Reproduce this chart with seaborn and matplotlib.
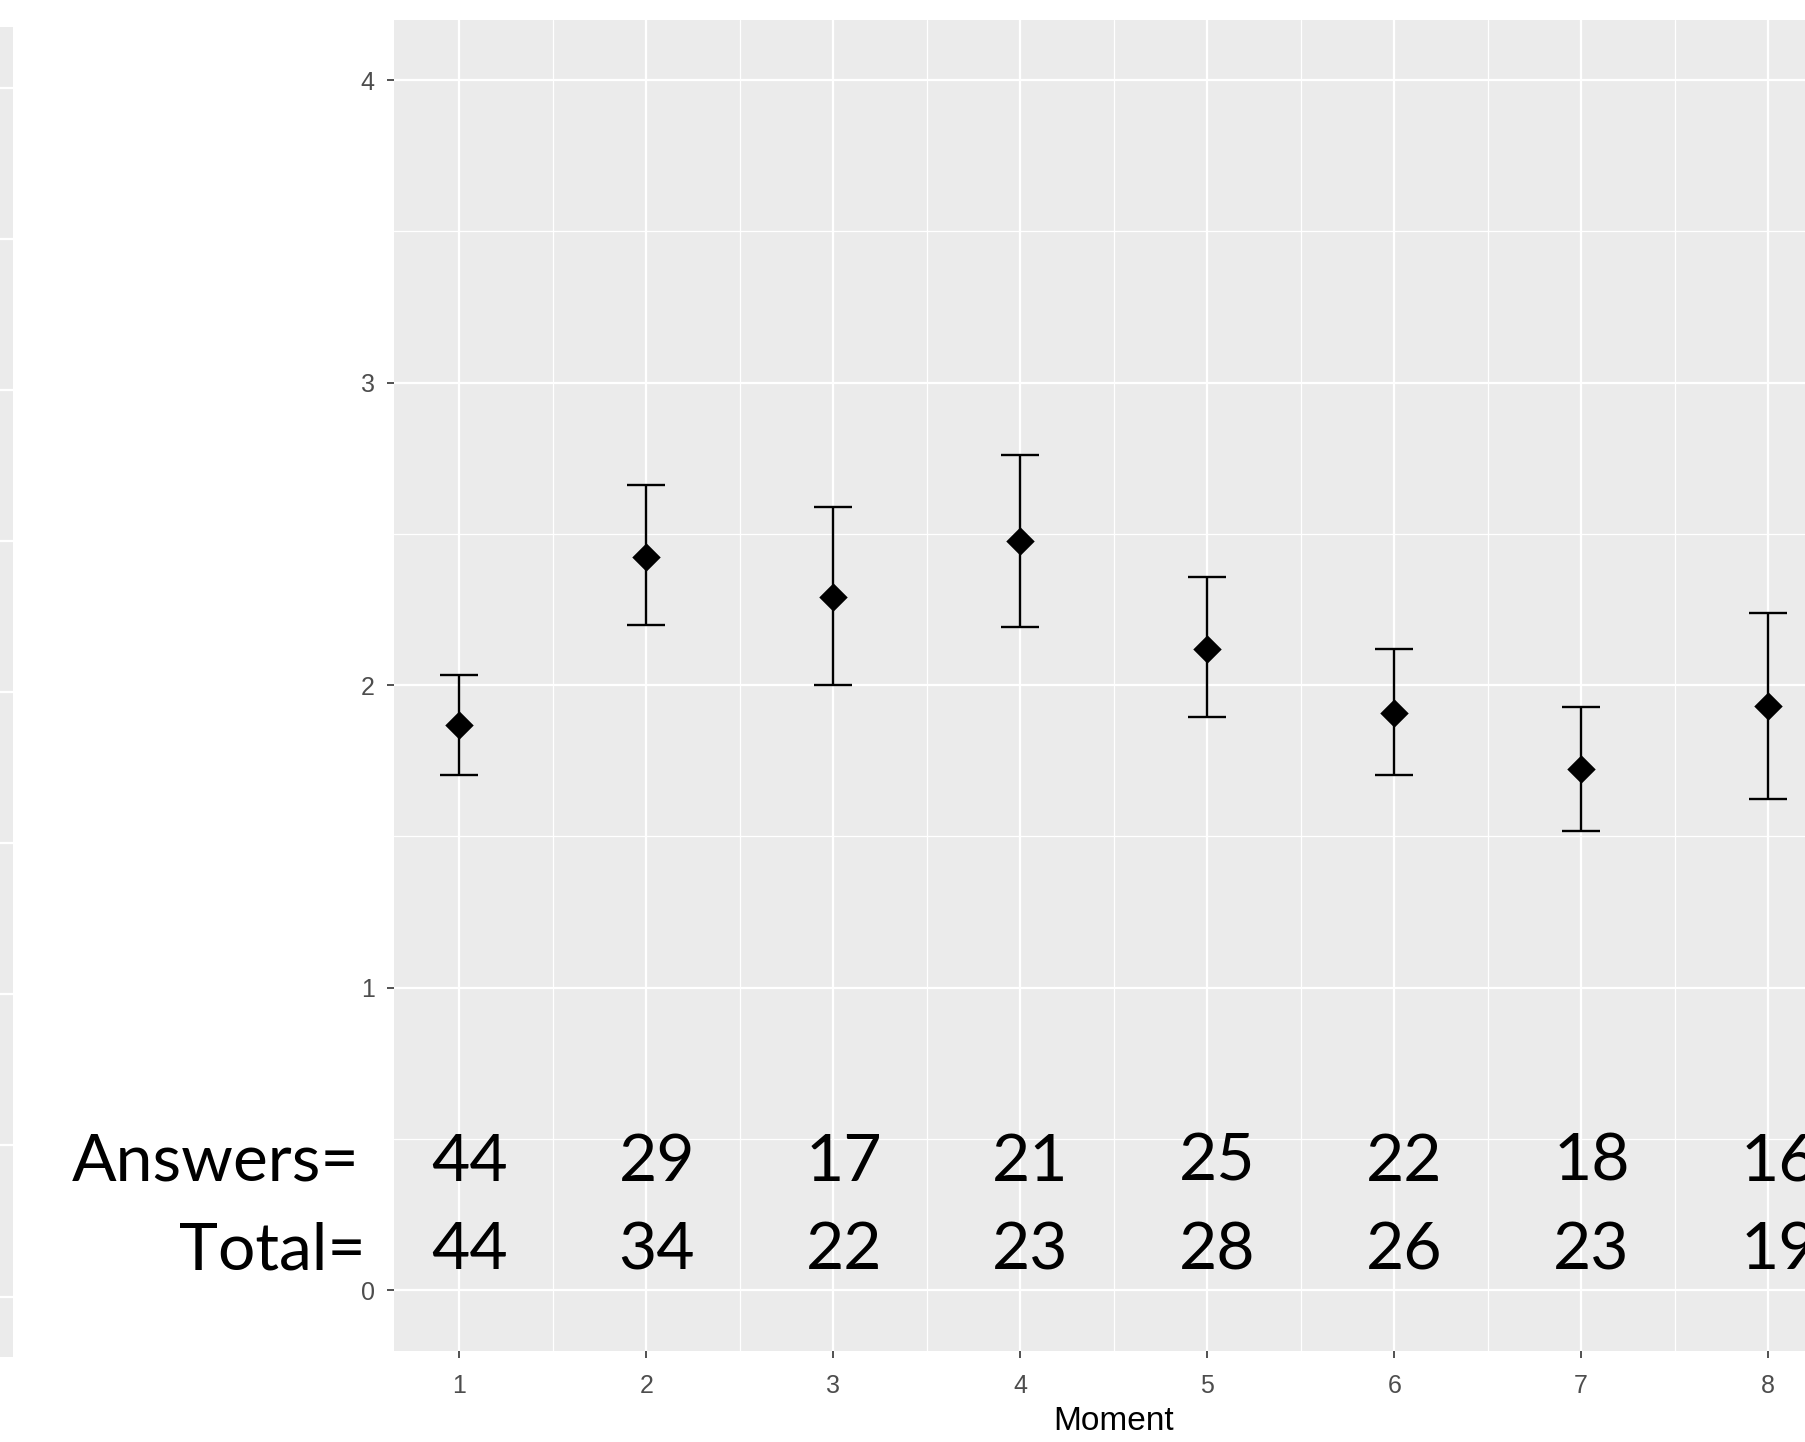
import numpy as np
import pandas as pd
import matplotlib
matplotlib.use("Agg")
import matplotlib.pyplot as plt
import seaborn as sns
from matplotlib.ticker import MultipleLocator

# Data
moments = [1, 2, 3, 4, 5, 6, 7, 8]
means = [1.868, 2.424, 2.292, 2.477, 2.118, 1.906, 1.722, 1.931]
upper = [2.033, 2.661, 2.587, 2.760, 2.357, 2.118, 1.927, 2.238]
lower = [1.702, 2.198, 2.000, 2.191, 1.895, 1.702, 1.516, 1.622]
answers = [44, 29, 17, 21, 25, 22, 18, 16]
totals = [44, 34, 22, 23, 28, 26, 23, 19]

df = pd.DataFrame({"Moment": moments, "mean": means, "upper": upper, "lower": lower})

sns.set_theme(style="darkgrid", rc={
    "axes.facecolor": "#EBEBEB",
    "grid.color": "white",
    "axes.edgecolor": "none",
})
plt.rcParams['font.family'] = ['Liberation Sans', 'DejaVu Sans']

fig = plt.figure(figsize=(18.06, 14.42), dpi=100)

# sliver of the neighbouring panel on the far left
ax0 = fig.add_axes([0, 0.0589, 13 / 1806, 0.9223])
ax0.set_facecolor("#EBEBEB")
ax0.set_ylim(-0.2, 4.2)
ax0.set_xlim(0, 1)
ax0.yaxis.set_major_locator(MultipleLocator(0.5))
ax0.set_xticks([])
ax0.tick_params(left=False, labelleft=False)
ax0.grid(axis='y', color='white', linewidth=1.6)
ax0.grid(axis='x', visible=False)
for s in ax0.spines.values():
    s.set_visible(False)

# main panel (runs a bit past the right edge, as in the cropped original)
ax = fig.add_axes([394 / 1806, 0.06345, 0.7971, 0.9230])
ax.set_xlim(0.65, 8.35)
ax.set_ylim(-0.2, 4.2)

ax.errorbar(df["Moment"], df["mean"],
            yerr=[df["mean"] - df["lower"], df["upper"] - df["mean"]],
            fmt='none', ecolor='black', elinewidth=1.7, capsize=13.4, capthick=1.7, zorder=3)
sns.scatterplot(data=df, x="Moment", y="mean", marker='D', s=210, color='black',
                edgecolor='black', linewidth=0, ax=ax, zorder=4)

ax.set_xticks(moments)
ax.set_yticks([0, 1, 2, 3, 4])
ax.xaxis.set_minor_locator(MultipleLocator(0.5))
ax.yaxis.set_minor_locator(MultipleLocator(0.5))
ax.grid(which='major', color='white', linewidth=1.6)
ax.grid(which='minor', color='white', linewidth=0.9)
ax.tick_params(which='major', length=5, width=1.2, color='#333333',
               labelsize=18, labelcolor='#4D4D4D', pad=9, bottom=True, left=True)
ax.tick_params(axis='x', which='major', pad=12)
ax.tick_params(which='minor', length=0)
for s in ax.spines.values():
    s.set_visible(False)

ax.set_xlabel("Moment", fontsize=24, color='black', labelpad=6)
ax.set_ylabel("")

# counts pasted under the points
big = dict(fontsize=47.5, color='black', family=['Lato', 'DejaVu Sans'], va='baseline', clip_on=False)
ax.text(0.464, 0.361, "Answers=", ha='right', **big)
ax.text(0.499, 0.069, "Total=", ha='right', **big)
for m, a, t in zip(moments, answers, totals):
    ax.text(m + 0.055, 0.361, str(a), ha='center', **big)
    ax.text(m + 0.055, 0.069, str(t), ha='center', **big)

fig.savefig("out.png", dpi=100)
